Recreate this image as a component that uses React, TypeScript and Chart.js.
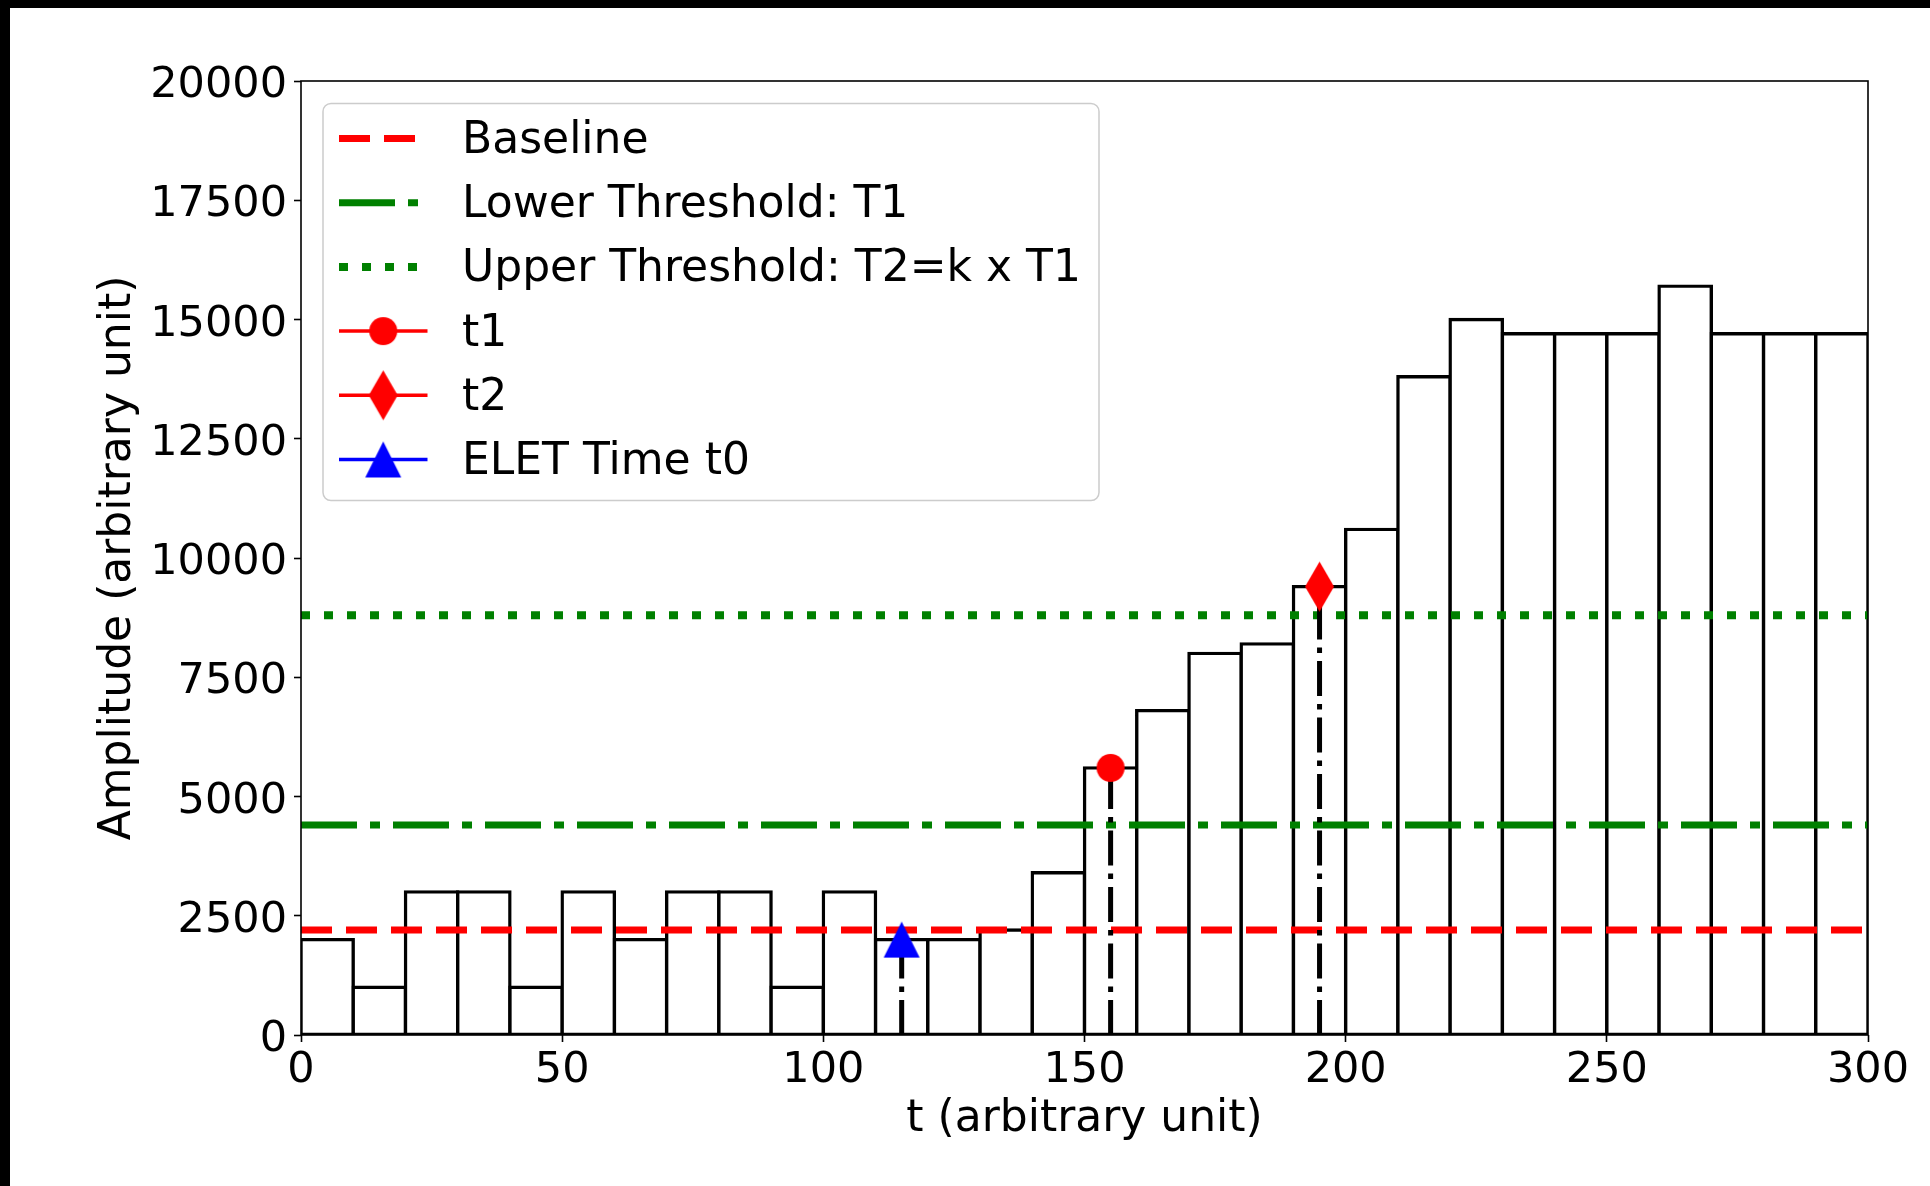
import React, { useEffect, useRef } from 'react';
import { Chart, registerables } from 'chart.js';

Chart.register(...registerables);

// ---- data ----
const BIN_CENTERS = [5, 15, 25, 35, 45, 55, 65, 75, 85, 95, 105, 115, 125, 135, 145, 155, 165, 175, 185, 195, 205, 215, 225, 235, 245, 255, 265, 275, 285, 295];
const BIN_AMPLITUDES = [2000, 1000, 3000, 3000, 1000, 3000, 2000, 3000, 3000, 1000, 3000, 2000, 2000, 2200, 3400, 5600, 6800, 8000, 8200, 9400, 10600, 13800, 15000, 14700, 14700, 14700, 15700, 14700, 14700, 14700];

const X_RANGE = [0, 300];
const BASELINE = 2200;
const LOWER_THRESHOLD = 4400;
const UPPER_THRESHOLD = 8800;

const EVENT_TIMES = [155, 195, 115]; // t1, t2, t0
const EVENT_AMPLITUDES = [5600, 9400, 2000];

const X_TICKS = [0, 50, 100, 150, 200, 250, 300];
const Y_TICKS = [0, 2500, 5000, 7500, 10000, 12500, 15000, 17500, 20000];

const LEGEND_LABELS = ['Baseline', 'Lower Threshold: T1', 'Upper Threshold: T2=k x T1', 't1', 't2', 'ELET Time t0'];
const X_TITLE = 't (arbitrary unit)';
const Y_TITLE = 'Amplitude (arbitrary unit)';

const FONT = 'DejaVu Sans';
const FS_TICK = 43;
const FS_TEXT = 44;
const RED = '#ff0000';
const GREEN = '#008000';
const BLUE = '#0000ff';

function makeMarker(w: number, h: number, draw: (g: CanvasRenderingContext2D) => void) {
  const c = document.createElement('canvas');
  c.width = w;
  c.height = h;
  const g = c.getContext('2d')!;
  draw(g);
  return c;
}

export default function App() {
  const ref = useRef<HTMLCanvasElement>(null);

  useEffect(() => {
    document.body.style.margin = '0';
    const canvas = ref.current!;

    const circleImg = makeMarker(30, 30, (g) => {
      g.fillStyle = RED;
      g.beginPath();
      g.arc(15, 15, 14, 0, Math.PI * 2);
      g.fill();
    });
    const diamondImg = makeMarker(31, 52, (g) => {
      g.fillStyle = RED;
      g.beginPath();
      g.moveTo(15.5, 1);
      g.lineTo(30, 26);
      g.lineTo(15.5, 51);
      g.lineTo(1, 26);
      g.closePath();
      g.fill();
    });
    const triImg = makeMarker(38, 38, (g) => {
      g.fillStyle = BLUE;
      g.beginPath();
      g.moveTo(19, 1);
      g.lineTo(37, 37);
      g.lineTo(1, 37);
      g.closePath();
      g.fill();
    });
    const markerImgs = [circleImg, diamondImg, triImg];
    const markerColors = [RED, RED, BLUE];

    const hLine = (y: number, color: string, width: number, dash: number[], label: string) => ({
      type: 'line' as const,
      label,
      data: [{ x: X_RANGE[0], y }, { x: X_RANGE[1], y }],
      borderColor: color,
      backgroundColor: color,
      borderWidth: width,
      borderDash: dash,
      borderCapStyle: 'butt' as const,
      pointRadius: 0,
      fill: false,
      order: 6,
    });

    const markerSets = EVENT_TIMES.map((t, i) => ({
      type: 'line' as const,
      label: LEGEND_LABELS[3 + i],
      data: [{ x: t, y: EVENT_AMPLITUDES[i] }],
      borderColor: markerColors[i],
      backgroundColor: markerColors[i],
      borderWidth: 3.5,
      pointStyle: markerImgs[i],
      pointRadius: 14,
      showLine: false,
      order: 1,
    }));

    const vLines = EVENT_TIMES.map((t, i) => ({
      type: 'line' as const,
      label: 'v' + i,
      data: [{ x: t, y: 0 }, { x: t, y: EVENT_AMPLITUDES[i] }],
      borderColor: '#000',
      borderWidth: 5,
      borderDash: [35, 8, 5.5, 8],
      borderCapStyle: 'butt' as const,
      pointRadius: 0,
      fill: false,
      order: 4,
    }));

    const bars = {
      type: 'bar' as const,
      label: 'hist',
      data: BIN_CENTERS.map((x, i) => ({ x, y: BIN_AMPLITUDES[i] })),
      backgroundColor: '#ffffff',
      borderColor: '#000000',
      borderWidth: 3.4,
      inflateAmount: 1.7,
      borderSkipped: false,
      barPercentage: 1,
      categoryPercentage: 1,
      clip: 0,
      order: 10,
    };

    const datasets: any[] = [
      hLine(BASELINE, RED, 7, [31, 14], LEGEND_LABELS[0]),
      hLine(LOWER_THRESHOLD, GREEN, 7, [56, 13, 10, 13], LEGEND_LABELS[1]),
      hLine(UPPER_THRESHOLD, GREEN, 8, [9, 14], LEGEND_LABELS[2]),
      ...markerSets,
      ...vLines,
      bars,
    ];

    const framePlugin = {
      id: 'frameAndLegend',
      afterDatasetsDraw(chart: any) {
        const { ctx, chartArea: a } = chart;
        ctx.save();
        ctx.strokeStyle = '#000';
        ctx.lineWidth = 1.6;
        ctx.setLineDash([]);
        ctx.strokeRect(a.left, a.top, a.right - a.left, a.bottom - a.top);

        const bx = a.left + 22;
        const by = a.top + 22.5;
        const bw = 776;
        const bh = 397;
        ctx.beginPath();
        (ctx as any).roundRect(bx, by, bw, bh, 8);
        ctx.fillStyle = 'rgba(255,255,255,0.8)';
        ctx.fill();
        ctx.strokeStyle = '#cccccc';
        ctx.lineWidth = 1.5;
        ctx.stroke();

        const x0 = a.left + 38;
        const x1 = a.left + 126.5;
        const xm = (x0 + x1) / 2;
        const tx = a.left + 161;
        for (let i = 0; i < 6; i++) {
          const ds = chart.data.datasets[i];
          const y = a.top + 57.5 + i * 64.2;
          ctx.beginPath();
          ctx.setLineDash(ds.borderDash || []);
          ctx.lineDashOffset = 0;
          ctx.lineCap = 'butt';
          ctx.strokeStyle = ds.borderColor;
          ctx.lineWidth = ds.borderWidth;
          ctx.moveTo(x0, y);
          ctx.lineTo(x1, y);
          ctx.stroke();
          ctx.setLineDash([]);
          if (i >= 3) {
            const img = ds.pointStyle as HTMLCanvasElement;
            ctx.drawImage(img, xm - img.width / 2, y - img.height / 2);
          }
          ctx.fillStyle = '#000';
          ctx.font = `${FS_TEXT}px "${FONT}"`;
          ctx.textAlign = 'left';
          ctx.textBaseline = 'middle';
          ctx.fillText(LEGEND_LABELS[i], tx, y + 3);
        }
        ctx.restore();
      },
    };

    const tickFont = { family: FONT, size: FS_TICK };
    const titleFont = { family: FONT, size: FS_TEXT };

    const chart = new Chart(canvas, {
      type: 'bar',
      data: { datasets },
      options: {
        responsive: false,
        animation: false,
        devicePixelRatio: 1,
        events: [],
        layout: { padding: { left: 0, top: 73, right: 62, bottom: 0 } },
        plugins: { legend: { display: false }, tooltip: { enabled: false }, title: { display: false } },
        scales: {
          x: {
            type: 'linear',
            min: X_RANGE[0],
            max: X_RANGE[1],
            offset: false,
            grid: { offset: false, display: true, drawOnChartArea: false, drawTicks: true, tickLength: 7, tickWidth: 1.6, tickColor: '#000' },
            border: { display: false },
            ticks: {
              font: tickFont,
              color: '#000',
              padding: 3,
              maxRotation: 0,
              minRotation: 0,
              autoSkip: false,
              callback: (v: any) => String(v),
            },
            afterBuildTicks: (s: any) => {
              s.ticks = X_TICKS.map((v) => ({ value: v }));
            },
            afterFit: (s: any) => {
              s.height = 151;
            },
            title: { display: true, text: X_TITLE, font: titleFont, color: '#000', padding: { top: 0, bottom: 40 } },
          },
          y: {
            type: 'linear',
            min: 0,
            max: 20000,
            grid: { display: true, drawOnChartArea: false, drawTicks: true, tickLength: 7, tickWidth: 1.6, tickColor: '#000' },
            border: { display: false },
            ticks: {
              font: tickFont,
              color: '#000',
              padding: 7,
              labelOffset: 5,
              autoSkip: false,
              callback: (v: any) => String(v),
            },
            afterBuildTicks: (s: any) => {
              s.ticks = Y_TICKS.map((v) => ({ value: v }));
            },
            afterFit: (s: any) => {
              s.width = 291;
            },
            title: { display: true, text: Y_TITLE, font: titleFont, color: '#000', padding: { top: 82, bottom: 0 } },
          },
        },
      } as any,
      plugins: [framePlugin],
    });

    return () => chart.destroy();
  }, []);

  return (
    <div style={{ position: 'fixed', left: 0, top: 0, width: '100vw', height: '100vh', background: '#000', overflow: 'hidden' }}>
      <div style={{ position: 'absolute', left: 10, top: 8, right: 0, bottom: 0, background: '#fff', overflow: 'hidden' }}>
        <canvas ref={ref} width={1920} height={1178} style={{ display: 'block', width: 1920, height: 1178 }} />
      </div>
    </div>
  );
}
